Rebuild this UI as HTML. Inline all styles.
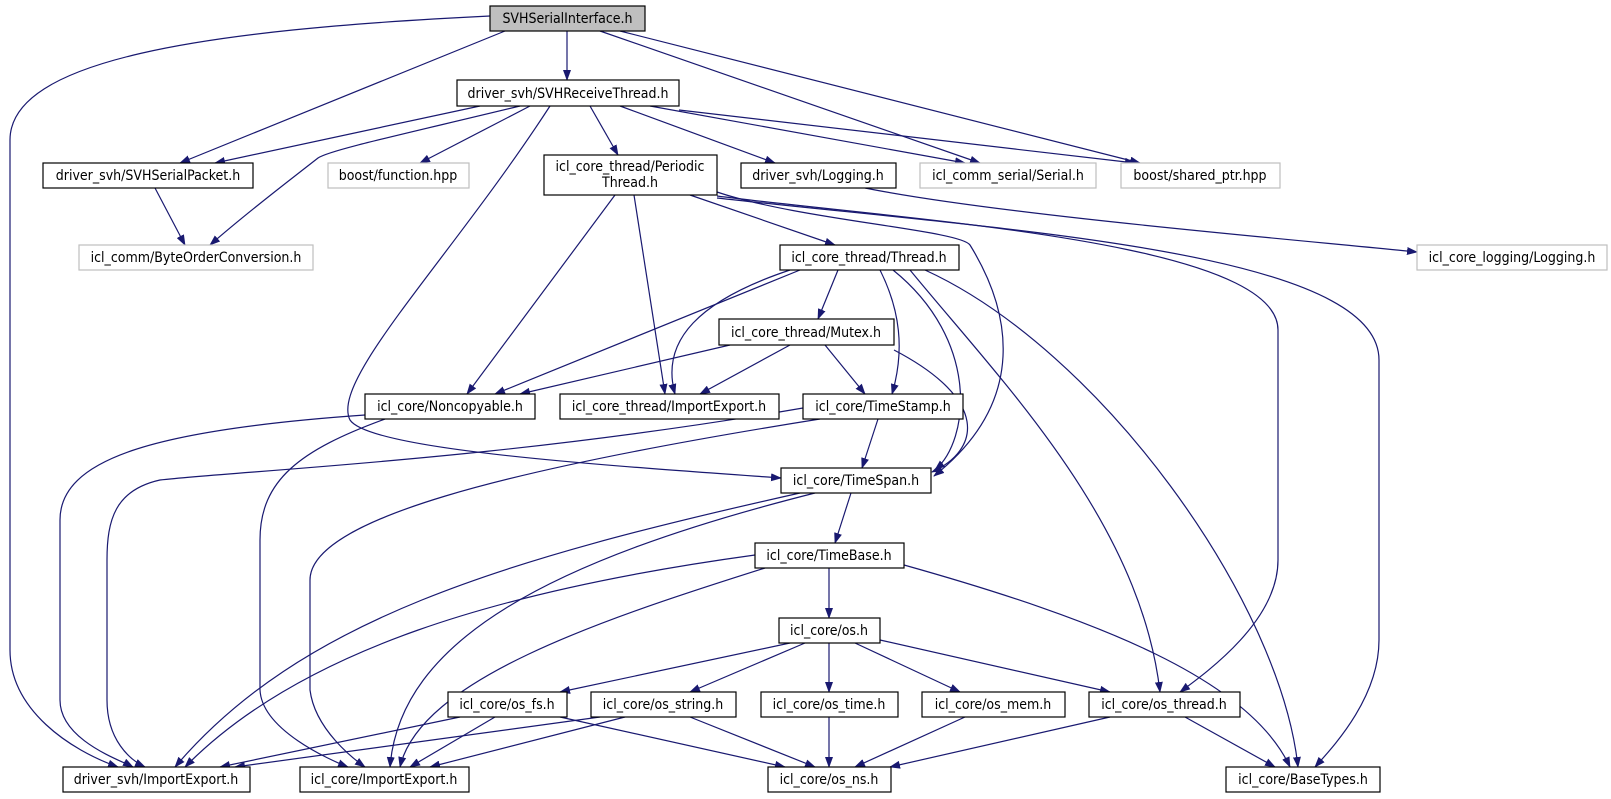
<!DOCTYPE html>
<html><head><meta charset="utf-8"><style>
html,body{margin:0;padding:0;background:#fff;width:1611px;height:799px;overflow:hidden}
svg{display:block}
text{font-family:"DejaVu Sans Condensed","Liberation Sans Narrow","Liberation Sans",sans-serif;font-size:14px;fill:#000}
.n{fill:#fff;stroke:#000;stroke-width:1.2}
.g{fill:#fff;stroke:#bfbfbf;stroke-width:1.2}
.e{fill:none;stroke:#191970;stroke-width:1.2;marker-end:url(#a)}
</style></head><body>
<svg width="1611" height="799" viewBox="0 0 1611 799" xmlns="http://www.w3.org/2000/svg">
<defs><marker id="a" markerWidth="11" markerHeight="8" refX="10" refY="4" orient="auto" markerUnits="userSpaceOnUse"><path d="M0,0 L11,4 L0,8 z" fill="#191970"/></marker></defs>
<g>
<path class="e" d="M490,16 C200,30 10,60 10,140 L10,650 C10,710 70,750 118,767"/>
<path class="e" d="M505,31 L180,163"/>
<path class="e" d="M567,31 L567,80"/>
<path class="e" d="M600,31 L980,163"/>
<path class="e" d="M620,31 L1140,163"/>
<path class="e" d="M480,106 L215,163"/>
<path class="e" d="M520,106 C400,135 330,150 318,158 C290,180 250,210 210,245"/>
<path class="e" d="M530,106 L420,163"/>
<path class="e" d="M550,106 C450,260 330,380 350,420 C370,450 600,465 781,478"/>
<path class="e" d="M590,106 L618,155"/>
<path class="e" d="M620,106 L775,163"/>
<path class="e" d="M650,106 L965,163"/>
<path class="e" d="M679,110 L1135,163"/>
<path class="e" d="M155,188 L185,245"/>
<path class="e" d="M615,195 L467,394"/>
<path class="e" d="M634,195 L665,394"/>
<path class="e" d="M690,195 L835,245"/>
<path class="e" d="M717,192 C800,220 960,230 970,245 C1010,310 1030,400 934,476"/>
<path class="e" d="M717,196 C900,220 1278,240 1278,330 L1278,560 C1278,620 1210,670 1180,692"/>
<path class="e" d="M717,198 C1000,230 1379,250 1379,360 L1379,640 C1379,700 1330,750 1315,767"/>
<path class="e" d="M865,188 C1000,215 1300,240 1417,252"/>
<path class="e" d="M800,270 L495,394"/>
<path class="e" d="M790,270 C700,300 660,340 675,394"/>
<path class="e" d="M838,270 L818,319"/>
<path class="e" d="M880,270 C900,310 905,350 892,394"/>
<path class="e" d="M893,270 C980,340 970,440 935,470"/>
<path class="e" d="M910,270 C1000,380 1140,520 1160,692"/>
<path class="e" d="M925,270 C1100,350 1280,600 1298,767"/>
<path class="e" d="M730,345 L520,394"/>
<path class="e" d="M790,345 L700,394"/>
<path class="e" d="M825,345 L865,394"/>
<path class="e" d="M894,350 C990,400 980,450 932,472"/>
<path class="e" d="M365,415 C150,430 60,460 60,520 L60,700 C60,740 120,760 133,767"/>
<path class="e" d="M385,419 C300,450 260,480 260,540 L260,690 C262,730 330,760 348,767"/>
<path class="e" d="M803,408 C500,460 250,470 160,480 C115,490 107,520 107,560 L107,700 C107,740 130,760 145,767"/>
<path class="e" d="M820,419 C500,470 310,520 310,580 L310,690 C315,730 355,760 365,767"/>
<path class="e" d="M800,493 C500,560 300,620 175,767"/>
<path class="e" d="M815,493 C550,560 400,640 390,767"/>
<path class="e" d="M755,555 C500,590 300,650 185,767"/>
<path class="e" d="M765,568 C600,620 420,680 400,767"/>
<path class="e" d="M829,568 L829,618"/>
<path class="e" d="M904,565 C1100,620 1250,680 1290,767"/>
<path class="e" d="M790,643 L560,692"/>
<path class="e" d="M805,643 L690,692"/>
<path class="e" d="M829,643 L829,692"/>
<path class="e" d="M855,643 L960,692"/>
<path class="e" d="M880,640 L1110,692"/>
<path class="e" d="M460,717 L220,767"/>
<path class="e" d="M495,717 L410,767"/>
<path class="e" d="M560,717 L785,767"/>
<path class="e" d="M600,717 L235,767"/>
<path class="e" d="M625,717 L430,767"/>
<path class="e" d="M690,717 L815,767"/>
<path class="e" d="M829,717 L829,767"/>
<path class="e" d="M965,717 L855,767"/>
<path class="e" d="M1110,717 L890,767"/>
<path class="e" d="M1185,717 L1275,767"/>
<path class="e" d="M878,419 L862,468"/>
<path class="e" d="M851,493 L835,543"/>
</g>
<g>
<rect x="490" y="6" width="155" height="25" fill="#bfbfbf" stroke="#000" stroke-width="1.2"/><text x="567.5" y="23" text-anchor="middle">SVHSerialInterface.h</text>
<rect class="n" x="457" y="80" width="222" height="26"/><text x="568" y="98" text-anchor="middle">driver_svh/SVHReceiveThread.h</text>
<rect class="n" x="43" y="163" width="210" height="25"/><text x="148" y="180" text-anchor="middle">driver_svh/SVHSerialPacket.h</text>
<rect class="g" x="328" y="163" width="141" height="25"/><text x="398" y="180" text-anchor="middle">boost/function.hpp</text>
<rect class="n" x="544" y="155" width="173" height="40"/><text x="630" y="171" text-anchor="middle">icl_core_thread/Periodic</text><text x="630" y="187" text-anchor="middle">Thread.h</text>
<rect class="n" x="741" y="163" width="155" height="25"/><text x="818" y="180" text-anchor="middle">driver_svh/Logging.h</text>
<rect class="g" x="920" y="163" width="176" height="25"/><text x="1008" y="180" text-anchor="middle">icl_comm_serial/Serial.h</text>
<rect class="g" x="1121" y="163" width="159" height="25"/><text x="1200" y="180" text-anchor="middle">boost/shared_ptr.hpp</text>
<rect class="g" x="79" y="245" width="234" height="25"/><text x="196" y="262" text-anchor="middle">icl_comm/ByteOrderConversion.h</text>
<rect class="n" x="780" y="245" width="179" height="25"/><text x="869" y="262" text-anchor="middle">icl_core_thread/Thread.h</text>
<rect class="g" x="1417" y="245" width="190" height="25"/><text x="1512" y="262" text-anchor="middle">icl_core_logging/Logging.h</text>
<rect class="n" x="719" y="319" width="175" height="26"/><text x="806" y="337" text-anchor="middle">icl_core_thread/Mutex.h</text>
<rect class="n" x="365" y="394" width="170" height="25"/><text x="450" y="411" text-anchor="middle">icl_core/Noncopyable.h</text>
<rect class="n" x="560" y="394" width="219" height="25"/><text x="669" y="411" text-anchor="middle">icl_core_thread/ImportExport.h</text>
<rect class="n" x="803" y="394" width="160" height="25"/><text x="883" y="411" text-anchor="middle">icl_core/TimeStamp.h</text>
<rect class="n" x="781" y="468" width="150" height="25"/><text x="856" y="485" text-anchor="middle">icl_core/TimeSpan.h</text>
<rect class="n" x="755" y="543" width="149" height="25"/><text x="829" y="560" text-anchor="middle">icl_core/TimeBase.h</text>
<rect class="n" x="779" y="618" width="101" height="25"/><text x="829" y="635" text-anchor="middle">icl_core/os.h</text>
<rect class="n" x="448" y="692" width="119" height="25"/><text x="507" y="709" text-anchor="middle">icl_core/os_fs.h</text>
<rect class="n" x="591" y="692" width="145" height="25"/><text x="663" y="709" text-anchor="middle">icl_core/os_string.h</text>
<rect class="n" x="761" y="692" width="137" height="25"/><text x="829" y="709" text-anchor="middle">icl_core/os_time.h</text>
<rect class="n" x="922" y="692" width="143" height="25"/><text x="993" y="709" text-anchor="middle">icl_core/os_mem.h</text>
<rect class="n" x="1089" y="692" width="151" height="25"/><text x="1164" y="709" text-anchor="middle">icl_core/os_thread.h</text>
<rect class="n" x="63" y="767" width="187" height="25"/><text x="156" y="784" text-anchor="middle">driver_svh/ImportExport.h</text>
<rect class="n" x="300" y="767" width="169" height="25"/><text x="384" y="784" text-anchor="middle">icl_core/ImportExport.h</text>
<rect class="n" x="768" y="767" width="123" height="25"/><text x="829" y="784" text-anchor="middle">icl_core/os_ns.h</text>
<rect class="n" x="1226" y="767" width="154" height="25"/><text x="1303" y="784" text-anchor="middle">icl_core/BaseTypes.h</text>
</g>
</svg>
</body></html>
